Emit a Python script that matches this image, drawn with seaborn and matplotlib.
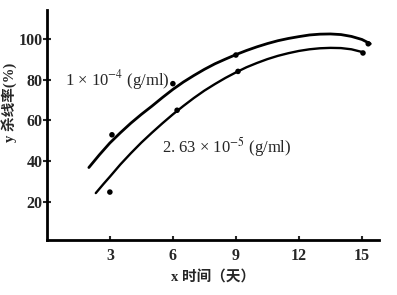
import matplotlib
matplotlib.use("Agg")
import matplotlib.pyplot as plt
import seaborn as sns
import pandas as pd

# measured points (dots)
hi_x = [3.1, 6.0, 9.0, 15.3]
hi_y = [53, 78, 92, 97.5]
lo_x = [3.0, 6.2, 9.1, 15.05]
lo_y = [25, 65, 84, 93]

# curves
hi_cx = [2.0, 2.5, 3, 3.5, 4, 4.5, 5, 5.5, 6, 6.5, 7, 7.5, 8, 8.5, 9, 9.5, 10, 10.5, 11, 11.5, 12, 12.5, 13, 13.5, 14, 14.5, 15, 15.4]
hi_cy = [37, 43.2, 49, 54, 58.7, 63, 67, 71.2, 75.2, 78.8, 82, 85, 87.7, 90, 92.2, 94.2, 96, 97.6, 99, 100.1, 101, 101.8, 102.2, 102.3, 102, 101.1, 99.6, 97.5]
lo_cx = [2.33, 2.7, 3, 3.5, 4, 4.5, 5, 5.5, 6, 6.5, 7, 7.5, 8, 8.5, 9, 9.5, 10, 10.5, 11, 11.5, 12, 12.5, 13, 13.5, 14, 14.5, 15, 15.05]
lo_cy = [24.5, 29, 32.5, 38.5, 44, 49.2, 54, 58.6, 63, 67.1, 71, 74.6, 77.8, 80.8, 83.5, 86, 88.1, 90, 91.6, 92.9, 94, 94.8, 95.3, 95.5, 95.4, 94.8, 93.5, 93]

x_ticks = [3, 6, 9, 12, 15]
y_ticks = [20, 40, 60, 80, 100]
label_hi = "1 × 10$^{-4}$ (g/ml)"
label_lo = "2. 63 × 10$^{-5}$ (g/ml)"
xlabel = "x 时间（天）"
ylabel = "y 杀线率(%)"

sns.set_style("ticks")
plt.rcParams["font.family"] = ["Liberation Serif", "Noto Sans CJK SC"]
plt.rcParams["mathtext.fontset"] = "stix"

fig = plt.figure(figsize=(3.97, 2.95), dpi=100)
ax = fig.add_axes([0.118, 0.186, 0.836, 0.78])

sns.lineplot(x=hi_cx, y=hi_cy, ax=ax, color="black", lw=2.0, sort=False)
sns.lineplot(x=lo_cx, y=lo_cy, ax=ax, color="black", lw=1.7, sort=False)
sns.scatterplot(x=hi_x, y=hi_y, ax=ax, color="black", s=16, edgecolor="none")
sns.scatterplot(x=lo_x, y=lo_y, ax=ax, color="black", s=16, edgecolor="none")

ax.set_xlim(0, 15.8)
ax.set_ylim(1.5, 114)
ax.set_xticks(x_ticks)
ax.set_yticks(y_ticks)
ax.set_xticklabels([str(t) for t in x_ticks], fontsize=11.5, fontweight="bold")
ax.set_yticklabels([str(t) for t in y_ticks], fontsize=11.5, fontweight="bold")
ax.tick_params(axis="y", direction="inout", length=6, width=1.5, pad=0)
ax.tick_params(axis="x", direction="in", length=3, width=1.5, pad=6)
for s in ["top", "right"]:
    ax.spines[s].set_visible(False)
for s in ["left", "bottom"]:
    ax.spines[s].set_linewidth(2)
    ax.spines[s].set_color("black")

ax.text(0.86, 80, label_hi, fontsize=12, va="center", ha="left")
ax.text(5.5, 47, label_lo, fontsize=12, va="center", ha="left")

ax.set_xlabel(xlabel, fontsize=10.5, fontweight="bold", labelpad=4)
ax.set_ylabel(ylabel, fontsize=10.5, fontweight="bold", labelpad=2)
ax.yaxis.set_label_coords(-0.09, 0.6)

fig.savefig("out.png", dpi=100)
